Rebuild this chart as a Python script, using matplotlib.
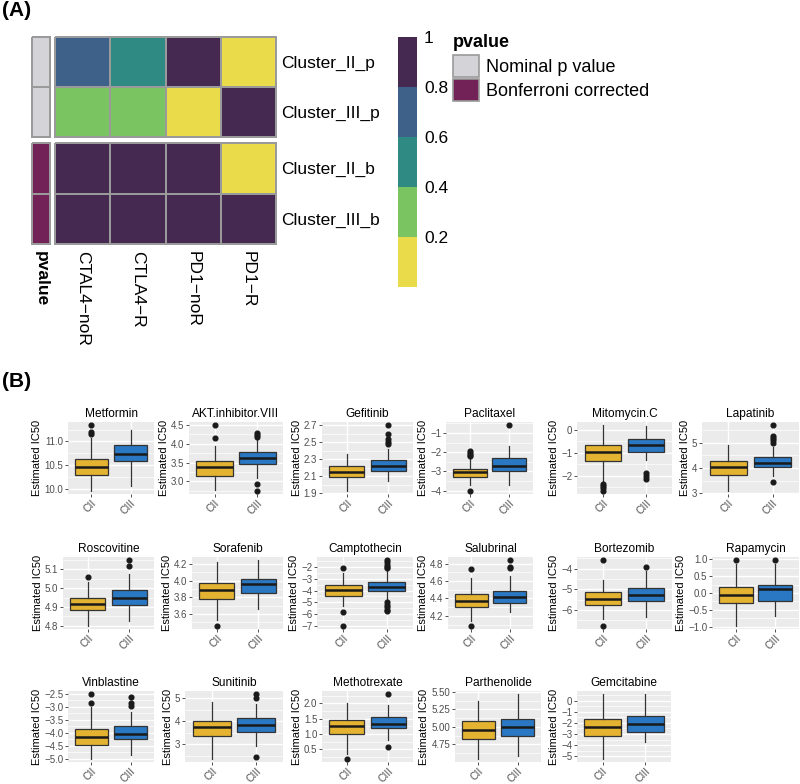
import numpy as np
import matplotlib
matplotlib.use('Agg')
import matplotlib.pyplot as plt
from matplotlib.colors import ListedColormap, BoundaryNorm
from matplotlib.patches import Patch
from matplotlib.ticker import AutoMinorLocator
import matplotlib.cm as cm

plt.rcParams['font.family'] = ['Liberation Sans', 'DejaVu Sans']

# ---------------- data: panel A (heatmap) ----------------
heat_rows = ['Cluster_II_p', 'Cluster_III_p', 'Cluster_II_b', 'Cluster_III_b']
heat_cols = ['CTAL4\u2212noR', 'CTLA4\u2212R', 'PD1\u2212noR', 'PD1\u2212R']
heat_vals = [[0.70, 0.50, 0.95, 0.05],
             [0.30, 0.30, 0.10, 0.95],
             [1.00, 1.00, 1.00, 0.05],
             [1.00, 1.00, 1.00, 1.00]]
pvalue_type = [0, 0, 1, 1]
pvalue_names = ['Nominal p value', 'Bonferroni corrected']
cbar_ticks = [0.2, 0.4, 0.6, 0.8, 1.0]
cbar_labels = ['0.2', '0.4', '0.6', '0.8', '1']

# ---------------- data: panel B (boxplots) ----------------
drugs = ['Metformin', 'AKT.inhibitor.VIII', 'Gefitinib', 'Paclitaxel', 'Mitomycin.C', 'Lapatinib',
         'Roscovitine', 'Sorafenib', 'Camptothecin', 'Salubrinal', 'Bortezomib', 'Rapamycin',
         'Vinblastine', 'Sunitinib', 'Methotrexate', 'Parthenolide', 'Gemcitabine']
groups = ['CII', 'CIII']

# (whisker low, q1, median, q3, whisker high)
cii_box = [
    (9.96, 10.30, 10.46, 10.62, 11.08),
    (2.77, 3.15, 3.375, 3.54, 3.95),
    (1.93, 2.086, 2.153, 2.216, 2.365),
    (-3.70, -3.30, -3.04, -2.87, -2.31),
    (-2.30, -1.37, -0.96, -0.69, 0.19),
    (3.10, 3.73, 4.04, 4.28, 4.92),
    (4.80, 4.885, 4.918, 4.945, 5.03),
    (3.524, 3.784, 3.884, 3.976, 4.224),
    (-5.29, -4.44, -3.97, -3.54, -2.48),
    (4.146, 4.30, 4.377, 4.45, 4.635),
    (-6.44, -5.76, -5.46, -5.14, -4.54),
    (-0.97, -0.294, -0.065, 0.174, 0.87),
    (-5.00, -4.46, -4.17, -3.85, -3.00),
    (2.37, 3.35, 3.76, 4.01, 4.83),
    (0.33, 1.00, 1.255, 1.46, 2.00),
    (4.54, 4.825, 4.958, 5.085, 5.368),
    (-5.24, -3.20, -2.37, -1.62, 0.60),
]
ciii_box = [
    (10.07, 10.59, 10.74, 10.93, 11.25),
    (3.08, 3.46, 3.62, 3.77, 4.12),
    (2.05, 2.165, 2.216, 2.29, 2.42),
    (-3.70, -3.00, -2.73, -2.29, -1.70),
    (-1.32, -0.96, -0.69, -0.39, 0.17),
    (3.69, 4.04, 4.20, 4.43, 4.83),
    (4.827, 4.908, 4.945, 4.99, 5.074),
    (3.664, 3.852, 3.956, 4.02, 4.244),
    (-4.87, -4.02, -3.66, -3.26, -2.28),
    (4.242, 4.346, 4.415, 4.485, 4.654),
    (-6.33, -5.58, -5.27, -4.93, -4.11),
    (-0.67, -0.234, 0.124, 0.244, 0.87),
    (-4.87, -4.24, -4.04, -3.76, -3.19),
    (2.93, 3.54, 3.85, 4.13, 4.76),
    (0.81, 1.18, 1.33, 1.55, 1.95),
    (4.58, 4.863, 5.00, 5.108, 5.47),
    (-3.71, -2.84, -2.07, -1.41, 0.60),
]
cii_out = [
    [11.34, 11.19, 11.15],
    [4.49, 4.14],
    [],
    [-1.96, -2.05, -2.12, -2.20, -4.00],
    [-2.37, -2.45, -2.55, -2.66],
    [],
    [5.061],
    [3.46],
    [-2.06, -5.79, -6.97],
    [4.735, 4.088],
    [-3.59, -6.76],
    [0.97],
    [-2.525, -2.88],
    [],
    [0.19],
    [],
    [],
]
ciii_out = [
    [],
    [4.28, 4.22, 4.18, 2.93, 2.75],
    [2.70, 2.60, 2.54, 2.50, 2.48],
    [-0.60],
    [-1.90, -2.00, -2.13],
    [5.69, 5.27, 5.19, 5.09, 5.00, 3.43],
    [5.148, 5.118],
    [],
    [-1.44, -1.60, -1.80, -2.00, -2.10, -5.00, -5.20, -5.40, -5.60, -5.70],
    [4.838, 4.76, 4.75],
    [-3.92],
    [0.97],
    [-2.65, -2.88, -2.98],
    [5.18, 5.00, 2.44],
    [2.30, 0.58],
    [],
    [],
]
yticks = [
    [10.0, 10.5, 11.0], [3.0, 3.5, 4.0, 4.5], [1.9, 2.1, 2.3, 2.5, 2.7], [-4, -3, -2, -1],
    [-2, -1, 0], [3, 4, 5], [4.8, 4.9, 5.0, 5.1], [3.6, 3.8, 4.0, 4.2],
    [-7, -6, -5, -4, -3, -2], [4.2, 4.4, 4.6, 4.8], [-6, -5, -4], [-1.0, -0.5, 0.0, 0.5, 1.0],
    [-5.0, -4.5, -4.0, -3.5, -3.0, -2.5], [3, 4, 5], [0.5, 1.0, 1.5, 2.0],
    [4.75, 5.00, 5.25, 5.50], [-5, -4, -3, -2, -1, 0],
]

# ---------------- layout (pixels) ----------------
W, H = 800, 784
fig = plt.figure(figsize=(W / 100, H / 100), dpi=100)


def px_axes(x0, x1, y0, y1):
    return fig.add_axes([x0 / W, 1 - y1 / H, (x1 - x0) / W, (y1 - y0) / H])


heat_colors = ['#EADB4A', '#7AC462', '#2F8A83', '#3E618A', '#452950']
heat_cmap = ListedColormap(heat_colors)
heat_norm = BoundaryNorm([0, 0.2, 0.4, 0.6, 0.8, 1.0], heat_cmap.N)
ann_cmap = ListedColormap(['#D3D3D8', '#722257'])
grid_col = '#9A9A9A'

fig.text(2 / W, 1 - 11 / H, '(A)', fontsize=15, fontweight='bold', va='center', ha='left')
fig.text(2 / W, 1 - 381 / H, '(B)', fontsize=15, fontweight='bold', va='center', ha='left')

vals = np.array(heat_vals)
ptype = np.array(pvalue_type).reshape(-1, 1)
blocks = [(slice(0, 2), 37, 137), (slice(2, 4), 143, 244)]
for bi, (sl, y0, y1) in enumerate(blocks):
    ax_a = px_axes(32, 50, y0, y1)
    m = ax_a.pcolormesh(ptype[sl], cmap=ann_cmap, vmin=0, vmax=1, edgecolors=grid_col, linewidth=1.2)
    m.set_clip_on(False)
    ax_a.invert_yaxis()
    ax_a.set_xticks([])
    ax_a.set_yticks([])
    for s in ax_a.spines.values():
        s.set_visible(False)

    ax_h = px_axes(55, 276, y0, y1)
    m = ax_h.pcolormesh(vals[sl], cmap=heat_cmap, norm=heat_norm, edgecolors=grid_col, linewidth=1.2)
    m.set_clip_on(False)
    ax_h.invert_yaxis()
    for s in ax_h.spines.values():
        s.set_visible(False)
    ax_h.yaxis.tick_right()
    ax_h.set_yticks(np.arange(2) + 0.5, heat_rows[sl], fontsize=12.5)
    ax_h.tick_params(axis='y', length=0, pad=4)
    if bi == 1:
        ax_h.set_xticks(np.arange(4) + 0.5, heat_cols, rotation=270, fontsize=12.5)
        ax_h.tick_params(axis='x', length=0, pad=5)
        ax_a.set_xticks([0.5], ['pvalue'], rotation=270, fontsize=12.5, fontweight='bold')
        ax_a.tick_params(axis='x', length=0, pad=5)
    else:
        ax_h.set_xticks([])

cax = px_axes(398, 417, 37, 287)
cb = fig.colorbar(cm.ScalarMappable(norm=heat_norm, cmap=heat_cmap), cax=cax, ticks=cbar_ticks)
cb.set_ticklabels(cbar_labels)
cb.outline.set_visible(False)
cax.minorticks_off()
cax.tick_params(which='both', length=0, labelsize=12.5, pad=5)

handles = [Patch(facecolor=ann_cmap(i), edgecolor=grid_col, linewidth=1.2) for i in range(2)]
leg = fig.legend(handles, pvalue_names, title='pvalue', loc='upper left',
                 bbox_to_anchor=(453 / W, 1 - 34 / H), frameon=False, fontsize=13,
                 handlelength=1.45, handleheight=1.45, handletextpad=0.4, labelspacing=0.16,
                 borderaxespad=0, borderpad=0)
leg.get_title().set_fontweight('bold')
leg.get_title().set_fontsize(13)
leg._legend_box.align = 'left'
leg._legend_box.sep = 3

# ---------------- panel B ----------------
row_y = [(422, 494), (557, 629), (691, 762)]
col_x = [
    [(68, 154), (189, 283), (322, 413), (446, 533), (577, 672), (702, 799)],
    [(63, 154), (192, 283), (317, 413), (448, 533), (577, 672), (712, 799)],
    [(68, 154), (185, 283), (322, 413), (455, 541), (577, 671)],
]
box_colors = ['#E3B331', '#2A78C3']
txt_grey = '#4D4D4D'

k = 0
for r, cols in enumerate(col_x):
    y0, y1 = row_y[r]
    for (x0, x1) in cols:
        ax = px_axes(x0, x1, y0, y1)
        stats = []
        for box, out in ((cii_box[k], cii_out[k]), (ciii_box[k], ciii_out[k])):
            lo, q1, med, q3, hi = box
            stats.append({'whislo': lo, 'q1': q1, 'med': med, 'q3': q3, 'whishi': hi, 'fliers': out})
        bp = ax.bxp(stats, positions=[1, 2], widths=0.85, patch_artist=True, showcaps=False,
                    boxprops=dict(edgecolor='#333333', linewidth=0.9),
                    whiskerprops=dict(color='#333333', linewidth=0.9),
                    medianprops=dict(color='#1A1A1A', linewidth=1.8),
                    flierprops=dict(marker='o', markerfacecolor='#1A1A1A', markeredgecolor='#1A1A1A',
                                    markersize=3.4, linestyle='none'))
        for patch, c in zip(bp['boxes'], box_colors):
            patch.set_facecolor(c)

        allv = list(cii_box[k]) + list(ciii_box[k]) + cii_out[k] + ciii_out[k]
        lo_v, hi_v = min(allv), max(allv)
        pad = 0.05 * (hi_v - lo_v)
        ax.set_ylim(lo_v - pad, hi_v + pad)
        ax.set_xlim(0.4, 2.6)
        ax.set_yticks(yticks[k])
        ax.yaxis.set_minor_locator(AutoMinorLocator(2))
        ax.set_xticks([1, 2], groups, rotation=45, ha='right', va='top', rotation_mode='anchor')

        ax.set_facecolor('#EBEBEB')
        ax.set_axisbelow(True)
        ax.grid(True, which='major', color='white', linewidth=1.0)
        ax.grid(True, which='minor', axis='y', color='white', linewidth=0.5)
        for s in ax.spines.values():
            s.set_visible(False)
        ax.tick_params(axis='both', which='major', length=2.2, width=0.6, color='#333333')
        ax.tick_params(axis='y', which='major', labelsize=7, labelcolor=txt_grey, pad=1.2)
        ax.tick_params(axis='x', which='major', labelsize=7.5, labelcolor=txt_grey, pad=0.8)
        ax.tick_params(which='minor', length=0)

        ax.set_title(drugs[k], fontsize=8.6, pad=3.5)
        ax.set_ylabel('Estimated IC50', fontsize=8, labelpad=1.5)
        k += 1

fig.savefig('out.png', dpi=100)
